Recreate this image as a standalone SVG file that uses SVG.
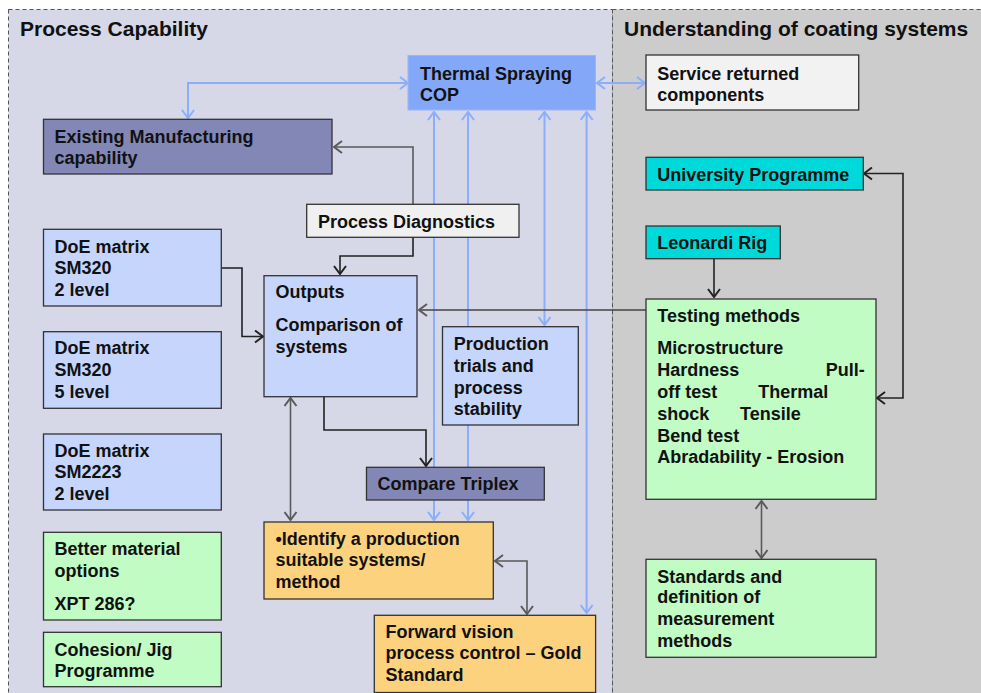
<svg xmlns="http://www.w3.org/2000/svg" width="981" height="693" viewBox="0 0 981 693">
  <style>
    .panel { stroke: #555; stroke-width: 1; stroke-dasharray: 4 3; }
    .title { font-family: "Liberation Sans", Arial, sans-serif; font-weight: bold; font-size: 21px; fill: #111; }
    .box { stroke: #333; stroke-width: 1.3; }
    .lbl { font-family: "Liberation Sans", Arial, sans-serif; font-weight: bold; font-size: 18px; fill: #111; }
    .blue { fill: #84a8f8; stroke: #9ab6f6; }
    .slate { fill: #8387b5; }
    .pale { fill: #c6d5fc; }
    .green { fill: #c0fcc4; }
    .orange { fill: #fdd27e; }
    .cyan { fill: #00d9d9; }
    .light { fill: #f0f0f0; }
    .white { fill: #f2f2f2; }
    .c-blue { fill: none; stroke: #8aaefc; stroke-width: 2; }
    .c-gray { fill: none; stroke: #5a5a5a; stroke-width: 1.6; }
    .c-dark { fill: none; stroke: #222; stroke-width: 1.6; }
  </style>
  <defs>
    <marker id="ah-blue" viewBox="0 0 10 14" refX="9" refY="7" markerWidth="10" markerHeight="14" markerUnits="userSpaceOnUse" orient="auto-start-reverse">
      <path d="M1,1 L9,7 L1,13" fill="none" stroke="#8aaefc" stroke-width="2"/>
    </marker>
    <marker id="ah-gray" viewBox="0 0 10 14" refX="9" refY="7" markerWidth="10" markerHeight="14" markerUnits="userSpaceOnUse" orient="auto-start-reverse">
      <path d="M1,1 L9,7 L1,13" fill="none" stroke="#5a5a5a" stroke-width="2"/>
    </marker>
    <marker id="ah-dark" viewBox="0 0 10 14" refX="9" refY="7" markerWidth="10" markerHeight="14" markerUnits="userSpaceOnUse" orient="auto-start-reverse">
      <path d="M1,1 L9,7 L1,13" fill="none" stroke="#222" stroke-width="2"/>
    </marker>
  </defs>

  <rect width="981" height="693" fill="#ffffff"/>

  <!-- two panels -->
  <g id="panels">
    <rect class="panel" x="8.5" y="9.5" width="604" height="700" fill="#d6d7e7"/>
    <rect class="panel" x="612.5" y="9.5" width="380" height="700" fill="#cccccc"/>
    <text class="title" x="20" y="36">Process Capability</text>
    <text class="title" x="624" y="36">Understanding of coating systems</text>
  </g>

  <!-- connectors -->
  <g id="connectors">
    <path class="c-blue" d="M408,83 H188 V118" marker-start="url(#ah-blue)" marker-end="url(#ah-blue)"/>
    <path class="c-blue" d="M597,83 H645" marker-start="url(#ah-blue)" marker-end="url(#ah-blue)"/>
    <path class="c-blue" d="M434,112 V520" marker-start="url(#ah-blue)" marker-end="url(#ah-blue)"/>
    <path class="c-blue" d="M468,112 V520" marker-start="url(#ah-blue)" marker-end="url(#ah-blue)"/>
    <path class="c-blue" d="M544.5,112 V325" marker-start="url(#ah-blue)" marker-end="url(#ah-blue)"/>
    <path class="c-blue" d="M586.6,112 V613" marker-start="url(#ah-blue)" marker-end="url(#ah-blue)"/>

    <path class="c-gray" d="M413,204 V147 H334" marker-end="url(#ah-gray)"/>
    <path class="c-dark" d="M413,237 V256 H340 V274" marker-end="url(#ah-dark)"/>
    <path class="c-dark" d="M221,268 H242 V336.5 H263" marker-end="url(#ah-dark)"/>
    <path class="c-gray" d="M646,310 H419" marker-end="url(#ah-gray)" style="stroke:#444"/>
    <path class="c-dark" d="M324,397 V430 H426 V466" marker-end="url(#ah-dark)"/>
    <path class="c-gray" d="M290.5,398 V520" marker-start="url(#ah-gray)" marker-end="url(#ah-gray)"/>
    <path class="c-gray" d="M495,561 H527 V614" marker-start="url(#ah-gray)" marker-end="url(#ah-gray)"/>
    <path class="c-dark" d="M877,398 H903 V173.5 H864" marker-start="url(#ah-dark)" marker-end="url(#ah-dark)"/>
    <path class="c-dark" d="M714,259 V297" marker-end="url(#ah-dark)"/>
    <path class="c-gray" d="M761.5,501 V558" marker-start="url(#ah-gray)" marker-end="url(#ah-gray)"/>
  </g>

  <!-- nodes -->
  <g id="thermal-spraying-cop">
    <rect class="blue" x="408" y="55.5" width="187.5" height="54.5"/>
    <text class="lbl" x="420" y="80">Thermal Spraying</text>
    <text class="lbl" x="420" y="101">COP</text>
  </g>
  <g id="service-returned">
    <rect class="box white" x="646" y="55" width="212.7" height="55"/>
    <text class="lbl" x="657.3" y="79.5">Service returned</text>
    <text class="lbl" x="657.3" y="101">components</text>
  </g>
  <g id="existing-manufacturing">
    <rect class="box slate" x="43.5" y="119.3" width="288.5" height="54.7"/>
    <text class="lbl" x="54.5" y="143.3">Existing Manufacturing</text>
    <text class="lbl" x="54.5" y="164">capability</text>
  </g>
  <g id="process-diagnostics">
    <rect class="box light" x="306.7" y="204.3" width="212.3" height="33"/>
    <text class="lbl" x="318" y="227.5">Process Diagnostics</text>
  </g>
  <g id="doe-sm320-2">
    <rect class="box pale" x="43.5" y="229.3" width="177.8" height="76.7"/>
    <text class="lbl" x="54.5" y="252.7">DoE matrix</text>
    <text class="lbl" x="54.5" y="274.3">SM320</text>
    <text class="lbl" x="54.5" y="296">2 level</text>
  </g>
  <g id="doe-sm320-5">
    <rect class="box pale" x="43.5" y="331.7" width="177.8" height="76.6"/>
    <text class="lbl" x="54.5" y="354.3">DoE matrix</text>
    <text class="lbl" x="54.5" y="376">SM320</text>
    <text class="lbl" x="54.5" y="398">5 level</text>
  </g>
  <g id="doe-sm2223-2">
    <rect class="box pale" x="43.5" y="434" width="177.8" height="76"/>
    <text class="lbl" x="54.5" y="456.7">DoE matrix</text>
    <text class="lbl" x="54.5" y="478">SM2223</text>
    <text class="lbl" x="54.5" y="499.5">2 level</text>
  </g>
  <g id="better-material">
    <rect class="box green" x="43.5" y="532.3" width="177.8" height="87.7"/>
    <text class="lbl" x="54.5" y="555">Better material</text>
    <text class="lbl" x="54.5" y="576.5">options</text>
    <text class="lbl" x="54.5" y="610">XPT 286?</text>
  </g>
  <g id="cohesion-jig">
    <rect class="box green" x="43.5" y="632.3" width="177.8" height="54.4"/>
    <text class="lbl" x="54.5" y="656">Cohesion/ Jig</text>
    <text class="lbl" x="54.5" y="676.5">Programme</text>
  </g>
  <g id="outputs">
    <rect class="box pale" x="264" y="275.7" width="153" height="121"/>
    <text class="lbl" x="275.5" y="298.3">Outputs</text>
    <text class="lbl" x="275.5" y="330.7">Comparison of</text>
    <text class="lbl" x="275.5" y="352.5">systems</text>
  </g>
  <g id="production-trials">
    <rect class="box pale" x="442.5" y="326.7" width="135.8" height="98.3"/>
    <text class="lbl" x="453.8" y="350">Production</text>
    <text class="lbl" x="453.8" y="371.7">trials and</text>
    <text class="lbl" x="453.8" y="394">process</text>
    <text class="lbl" x="453.8" y="415">stability</text>
  </g>
  <g id="compare-triplex">
    <rect class="box slate" x="366.5" y="467.3" width="177.8" height="32.7"/>
    <text class="lbl" x="377.5" y="490">Compare Triplex</text>
  </g>
  <g id="identify-system">
    <rect class="box orange" x="264" y="522" width="229.3" height="77"/>
    <text class="lbl" x="275.5" y="545">•Identify a production</text>
    <text class="lbl" x="275.5" y="566.3">suitable systems/</text>
    <text class="lbl" x="275.5" y="587.5">method</text>
  </g>
  <g id="forward-vision">
    <rect class="box orange" x="374.3" y="615.3" width="221.3" height="77.2"/>
    <text class="lbl" x="385.4" y="637.7">Forward vision</text>
    <text class="lbl" x="385.4" y="659.3">process control – Gold</text>
    <text class="lbl" x="385.4" y="681">Standard</text>
  </g>
  <g id="university-programme">
    <rect class="box cyan" x="646" y="157.3" width="217.3" height="32.7"/>
    <text class="lbl" x="657.3" y="180.7">University Programme</text>
  </g>
  <g id="leonardi-rig">
    <rect class="box cyan" x="646" y="226" width="134.3" height="32.7"/>
    <text class="lbl" x="657.3" y="249.3">Leonardi Rig</text>
  </g>
  <g id="testing-methods">
    <rect class="box green" x="646" y="299" width="230" height="200.3"/>
    <text class="lbl" x="657.3" y="321.7">Testing methods</text>
    <text class="lbl" x="657.3" y="354.3">Microstructure</text>
    <text class="lbl" x="657.3" y="376">Hardness</text>
    <text class="lbl" x="825.7" y="376">Pull-</text>
    <text class="lbl" x="657.3" y="397.7">off test</text>
    <text class="lbl" x="758.3" y="397.7">Thermal</text>
    <text class="lbl" x="657.3" y="420">shock</text>
    <text class="lbl" x="740" y="420">Tensile</text>
    <text class="lbl" x="657.3" y="441.7">Bend test</text>
    <text class="lbl" x="657.3" y="463.3">Abradability - Erosion</text>
  </g>
  <g id="standards-definition">
    <rect class="box green" x="646" y="559.3" width="230" height="98"/>
    <text class="lbl" x="657.3" y="582.7">Standards and</text>
    <text class="lbl" x="657.3" y="603.3">definition of</text>
    <text class="lbl" x="657.3" y="625">measurement</text>
    <text class="lbl" x="657.3" y="646.7">methods</text>
  </g>
</svg>
